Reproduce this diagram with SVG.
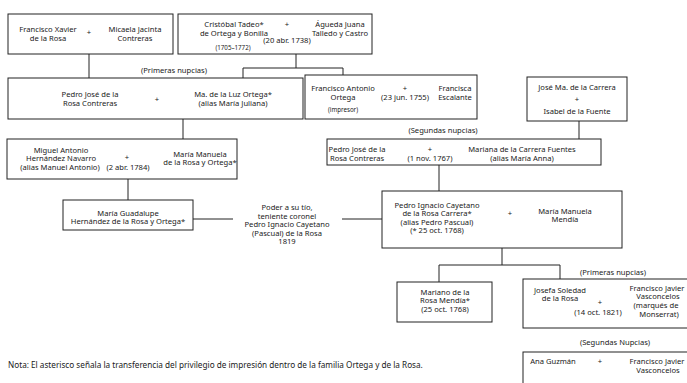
<svg xmlns="http://www.w3.org/2000/svg" width="687" height="383" viewBox="0 0 687 383">
<style>
text{font-family:"Noto Sans","Open Sans",sans-serif;font-size:7.6px;fill:#1a1a1a;text-anchor:middle}
.s{font-size:6.2px}
.l{text-anchor:start;font-size:8.2px}
rect{fill:#fff;stroke:#222;stroke-width:1}
.c line,.c path{stroke:#222;stroke-width:1;fill:none}
</style>
<rect x="0" y="0" width="687" height="383" style="stroke:none"/>
<g class="c" id="connectors">
<path d="M89 54V78"/>
<path d="M296 54V68M243 78V68H343V75"/>
<path d="M183 119V139"/>
<path d="M579 121V139"/>
<path d="M439 165V191"/>
<path d="M128 179V200"/>
<path d="M193 219H233"/>
<path d="M342 219H382"/>
<path d="M502 248V265M439 282V265H560V279"/>
</g>
<g id="n1"><rect x="8" y="14" width="165" height="40"/>
<text x="48" y="32">Francisco Xavier</text><text x="48" y="40.5">de la Rosa</text>
<text x="89" y="35">+</text>
<text x="135" y="32">Micaela Jacinta</text><text x="135" y="40.5">Contreras</text></g>
<g id="n2"><rect x="178" y="14" width="194" height="40"/>
<text x="234" y="27">Cristóbal Tadeo*</text><text x="234" y="35.5">de Ortega y Bonilla</text>
<text class="s" x="233" y="50">(1705–1772)</text>
<text x="287" y="27">+</text><text x="287" y="43">(20 abr. 1738)</text>
<text x="340" y="27">Águeda Juana</text><text x="340" y="35.5">Talledo y Castro</text></g>
<text x="174" y="72.5">(Primeras nupcias)</text>
<g id="n3"><rect x="8" y="78" width="295" height="41"/>
<text x="90" y="96.5">Pedro José de la</text><text x="90" y="106">Rosa Contreras</text>
<text x="157" y="102">+</text>
<text x="233" y="96.5">Ma. de la Luz Ortega*</text><text x="233" y="106">(alias María Juliana)</text></g>
<g id="n4"><rect x="305" y="75" width="172" height="44"/>
<text x="343" y="90.5">Francisco Antonio</text><text x="343" y="99.5">Ortega</text>
<text class="s" x="343" y="112">(impresor)</text>
<text x="405" y="91">+</text><text x="405" y="100">(23 jun. 1755)</text>
<text x="455" y="90.5">Francisca</text><text x="455" y="99.5">Escalante</text></g>
<g id="n5"><rect x="527" y="77" width="100" height="44"/>
<text x="577" y="89.5">José Ma. de la Carrera</text>
<text x="577" y="101.5">+</text>
<text x="577" y="114">Isabel de la Fuente</text></g>
<text x="443" y="132.5">(Segundas nupcias)</text>
<g id="n6"><rect x="327" y="139" width="274" height="26"/>
<text x="357" y="152">Pedro José de la</text><text x="357" y="160.5">Rosa Contreras</text>
<text x="430" y="152">+</text><text x="430" y="160.5">(1 nov. 1767)</text>
<text x="522" y="152">Mariana de la Carrera Fuentes</text><text x="522" y="160.5">(alias María Anna)</text></g>
<g id="n11"><rect x="7" y="139" width="230" height="40"/>
<text x="61" y="152.5">Miguel Antonio</text><text x="61" y="161">Hernández Navarro</text><text x="60" y="169.5">(alias Manuel Antonio)</text>
<text x="127" y="160">+</text><text x="128" y="170">(2 abr. 1784)</text>
<text x="200" y="156.5">María Manuela</text><text x="200" y="165">de la Rosa y Ortega*</text></g>
<g id="n12"><rect x="63" y="200" width="130" height="30"/>
<text x="128" y="215.5">María Guadalupe</text><text x="128" y="224">Hernández de la Rosa y Ortega*</text></g>
<g id="note1">
<text x="287" y="210">Poder a su tío,</text>
<text x="287" y="218.5">teniente coronel</text>
<text x="287" y="227">Pedro Ignacio Cayetano</text>
<text x="287" y="235.5">(Pascual) de la Rosa</text>
<text x="287" y="244">1819</text></g>
<g id="n7"><rect x="382" y="191" width="240" height="57"/>
<text x="437" y="207.5">Pedro Ignacio Cayetano</text><text x="437" y="216">de la Rosa Carrera*</text>
<text x="437" y="224.5">(alias Pedro Pascual)</text><text x="437" y="233">(* 25 oct. 1768)</text>
<text x="510" y="216">+</text>
<text x="565" y="213.5">María Manuela</text><text x="565" y="222">Mendía</text></g>
<text x="613" y="274.5">(Primeras nupcias)</text>
<g id="n8"><rect x="397" y="282" width="95" height="40"/>
<text x="445" y="294.5">Mariano de la</text><text x="445" y="303">Rosa Mendía*</text><text x="445" y="311.5">(25 oct. 1768)</text></g>
<g id="n9"><rect x="523" y="279" width="170" height="49"/>
<text x="560" y="292.5">Josefa Soledad</text><text x="560" y="301">de la Rosa</text>
<text x="600" y="304.5">+</text><text x="598" y="315">(14 oct. 1821)</text>
<text x="657" y="290.5">Francisco Javier</text><text x="658" y="299">Vasconcelos</text>
<text x="656" y="308">(marqués de</text><text x="659" y="317">Monserrat)</text></g>
<text x="615" y="344.5">(Segundas Nupcias)</text>
<g id="n10"><rect x="523" y="352" width="170" height="40"/>
<text x="553" y="363.5">Ana Guzmán</text>
<text x="600" y="363.5">+</text>
<text x="657" y="363.5">Francisco Javier</text><text x="658" y="373">Vasconcelos</text></g>
<text class="l" x="8" y="367.5">Nota: El asterisco señala la transferencia del privilegio de impresión dentro de la familia Ortega y de la Rosa.</text>
</svg>
